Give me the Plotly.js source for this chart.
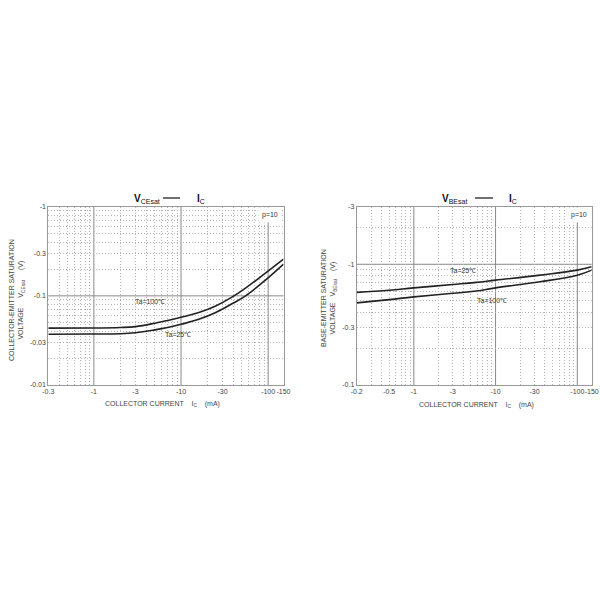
<!DOCTYPE html>
<html><head><meta charset="utf-8">
<script src="https://cdn.plot.ly/plotly-3.0.1.min.js"></script>
<style>html,body{margin:0;padding:0;background:#fff}#chart{width:600px;height:600px}</style>
</head><body><div id="chart"></div>
<script>
// Values are magnitudes (the chart plots negative currents/voltages; signs shown in tick labels)
// Left chart: VCEsat vs IC
const icLeft = [0.3, 1, 2, 3, 5, 7, 10, 16, 25, 38, 55, 93, 150];
const vceTa100 = [0.0434, 0.0436, 0.0441, 0.0452, 0.0493, 0.053, 0.0575, 0.065, 0.077, 0.096, 0.122, 0.18, 0.258];
const vceTa25  = [0.0371, 0.0373, 0.0376, 0.0386, 0.0415, 0.0441, 0.048, 0.0545, 0.065, 0.081, 0.1, 0.15, 0.227];
// Right chart: VBEsat vs IC
const icRight = [0.2, 0.5, 1, 3, 5.8, 10, 35, 100, 150];
const vbeTa25  = [0.585, 0.61, 0.638, 0.68, 0.708, 0.739, 0.813, 0.895, 0.953];
const vbeTa100 = [0.479, 0.51, 0.537, 0.575, 0.6, 0.638, 0.716, 0.813, 0.895];

// tick labels
const xTickValsL = [0.3, 1, 3, 10, 30, 100, 150];
const xTickTextL = ["-0.3", "-1", "-3", "-10", "-30", "-100", "-150"];
const yTickValsL = [0.01, 0.03, 0.1, 0.3, 1];
const yTickTextL = ["-0.01", "-0.03", "-0.1", "-0.3", "-1"];
const xTickValsR = [0.2, 0.5, 1, 3, 10, 30, 100, 150];
const xTickTextR = ["-0.2", "-0.5", "-1", "-3", "-10", "-30", "-100", "-150"];
const yTickValsR = [0.1, 0.3, 1, 3];
const yTickTextR = ["-0.1", "-0.3", "-1", "-3"];

// minor grid positions
const minorX = [0.2,0.3,0.4,0.5,0.6,0.7,0.8,0.9,2,3,4,5,6,7,8,9,20,30,40,50,60,70,80,90];
const minorYL = [0.02,0.03,0.04,0.05,0.06,0.07,0.08,0.09,0.2,0.3,0.4,0.5,0.6,0.7,0.8,0.9];
const minorYR = [0.2,0.3,0.4,0.5,0.6,0.7,0.8,0.9,2];
// major grid positions
const majorXL = [1, 10, 100];
const majorYL = [0.1];
const majorXR = [1, 10, 100];
const majorYR = [1];

const FONT = "Liberation Sans, Arial, sans-serif";
const tickFont = {family: FONT, size: 7, color: "#444"};
const lineStyle = {color: "#222", width: 1.6, shape: "spline", smoothing: 1.2};
const minorBase = {tickmode: "array", showgrid: true, gridcolor: "#b4b4b4", griddash: "1px,2px", gridwidth: 1, ticks: ""};

function axisBase(extra) {
  return Object.assign({
    type: "log", tickmode: "array", tickfont: tickFont, tickangle: 0,
    showgrid: false, zeroline: false, ticks: "",
    showline: true, mirror: true, linecolor: "#999", linewidth: 1,
    fixedrange: true
  }, extra);
}

const traces = [
  {x: icLeft, y: vceTa100, xaxis: "x", yaxis: "y", mode: "lines", line: lineStyle, name: "Ta=100℃", hoverinfo: "skip"},
  {x: icLeft, y: vceTa25, xaxis: "x", yaxis: "y", mode: "lines", line: lineStyle, name: "Ta=25℃", hoverinfo: "skip"},
  {x: icRight, y: vbeTa25, xaxis: "x2", yaxis: "y2", mode: "lines", line: lineStyle, name: "Ta=25℃", hoverinfo: "skip"},
  {x: icRight, y: vbeTa100, xaxis: "x2", yaxis: "y2", mode: "lines", line: lineStyle, name: "Ta=100℃", hoverinfo: "skip"}
];

const yDom = [1 - 385/600, 1 - 206.7/600];
const layout = {
  width: 600, height: 600, margin: {l: 0, r: 0, t: 0, b: 0},
  paper_bgcolor: "#fff", plot_bgcolor: "#fff", showlegend: false,
  font: {family: FONT},
  xaxis: axisBase({domain: [48.3/600, 283.5/600], range: [Math.log10(0.3), Math.log10(150)],
    tickvals: xTickValsL, ticktext: xTickTextL, anchor: "y",
    minor: Object.assign({tickvals: minorX}, minorBase)}),
  yaxis: axisBase({domain: yDom, range: [-2, 0], tickvals: yTickValsL, ticktext: yTickTextL, anchor: "x",
    minor: Object.assign({tickvals: minorYL}, minorBase)}),
  xaxis2: axisBase({domain: [356.7/600, 591.7/600], range: [Math.log10(0.2), Math.log10(150)],
    tickvals: xTickValsR, ticktext: xTickTextR, anchor: "y2",
    minor: Object.assign({tickvals: minorX}, minorBase)}),
  yaxis2: axisBase({domain: yDom, range: [-1, Math.log10(3)], tickvals: yTickValsR, ticktext: yTickTextR, anchor: "x2",
    minor: Object.assign({tickvals: minorYR}, minorBase)}),
  shapes: [],
  annotations: []
};

// major solid gridlines
majorXL.forEach(v => layout.shapes.push({type: "line", xref: "x", yref: "y domain", x0: v, x1: v, y0: 0, y1: 1, line: {color: "#888", width: 1}, layer: "below"}));
majorYL.forEach(v => layout.shapes.push({type: "line", xref: "x domain", yref: "y", x0: 0, x1: 1, y0: v, y1: v, line: {color: "#888", width: 1}, layer: "below"}));
majorXR.forEach(v => layout.shapes.push({type: "line", xref: "x2", yref: "y2 domain", x0: v, x1: v, y0: 0, y1: 1, line: {color: "#888", width: 1}, layer: "below"}));
majorYR.forEach(v => layout.shapes.push({type: "line", xref: "x2 domain", yref: "y2", x0: 0, x1: 1, y0: v, y1: v, line: {color: "#888", width: 1}, layer: "below"}));

const annFont = {family: FONT, size: 7, color: "#333"};
function ann(o) { layout.annotations.push(Object.assign({showarrow: false, font: annFont, xanchor: "center", yanchor: "middle"}, o)); }

// curve labels
ann({xref: "x", yref: "y", x: Math.log10(4.4), y: Math.log10(0.087), text: "Ta=100℃"});
ann({xref: "x", yref: "y", x: Math.log10(9.3), y: Math.log10(0.037), text: "Ta=25℃"});
ann({xref: "x2", yref: "y2", x: Math.log10(4), y: Math.log10(0.895), text: "Ta=25℃"});
ann({xref: "x2", yref: "y2", x: Math.log10(9.1), y: Math.log10(0.505), text: "Ta=100℃"});
// beta labels
ann({xref: "x domain", yref: "y domain", x: 0.995, y: 1, xanchor: "right", yanchor: "top", text: "p=10", bgcolor: "#fff", borderpad: 3});
ann({xref: "x2 domain", yref: "y2 domain", x: 0.995, y: 1, xanchor: "right", yanchor: "top", text: "p=10", bgcolor: "#fff", borderpad: 3});

// chart titles
const tFont = {family: FONT, size: 10, color: "#111"};
ann({xref: "paper", yref: "paper", x: 132/600, y: 1 - 199/600, xanchor: "left", font: tFont, text: "<b>V</b><sub>CEsat</sub>"});
ann({xref: "paper", yref: "paper", x: 195/600, y: 1 - 199/600, xanchor: "left", font: tFont, text: "<b>I</b><sub>C</sub>"});
layout.shapes.push({type: "line", xref: "paper", yref: "paper", x0: 163/600, x1: 180/600, y0: 1 - 198/600, y1: 1 - 198/600, line: {color: "#222", width: 1.3}});
ann({xref: "paper", yref: "paper", x: 440/600, y: 1 - 199/600, xanchor: "left", font: tFont, text: "<b>V</b><sub>BEsat</sub>"});
ann({xref: "paper", yref: "paper", x: 507/600, y: 1 - 199/600, xanchor: "left", font: tFont, text: "<b>I</b><sub>C</sub>"});
layout.shapes.push({type: "line", xref: "paper", yref: "paper", x0: 475/600, x1: 493/600, y0: 1 - 198/600, y1: 1 - 198/600, line: {color: "#222", width: 1.3}});

// axis titles
const axFont = {family: FONT, size: 7, color: "#444"};
ann({xref: "paper", yref: "paper", x: 162/600, y: 1 - 404/600, font: axFont,
  text: "COLLECTOR CURRENT    I<sub>C</sub>    (mA)"});
ann({xref: "paper", yref: "paper", x: 476/600, y: 1 - 405/600, font: axFont,
  text: "COLLECTOR CURRENT    I<sub>C</sub>    (mA)"});
ann({xref: "paper", yref: "paper", x: 17/600, y: 1 - 300/600, font: axFont, textangle: -90,
  text: "COLLECTOR-EMITTER SATURATION<br>VOLTAGE     V<sub>CEsat</sub>     (V)"});
ann({xref: "paper", yref: "paper", x: 329/600, y: 1 - 298/600, font: axFont, textangle: -90,
  text: "BASE-EMITTER SATURATION<br>VOLTAGE   V<sub>BEsat</sub>    (V)"});

Plotly.newPlot("chart", traces, layout, {staticPlot: true, displayModeBar: false});
</script></body></html>
